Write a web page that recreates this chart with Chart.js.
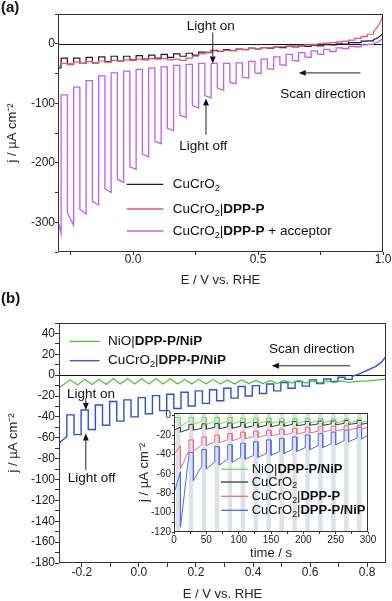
<!DOCTYPE html>
<html><head><meta charset="utf-8">
<script src="https://cdn.jsdelivr.net/npm/chart.js@4.4.1/dist/chart.umd.min.js"></script>
<style>
body{margin:0;background:#fff}
#wrap{position:relative;width:392px;height:601px;overflow:hidden;font-family:"Liberation Sans",Arial,sans-serif}
canvas{position:absolute}
.tag{position:absolute;font-weight:bold;font-size:15px;color:#111}
</style></head><body>
<div id="wrap">
<canvas id="ca" width="392" height="290" style="left:0;top:0"></canvas>
<canvas id="cb" width="392" height="311" style="left:0;top:290px"></canvas>
<canvas id="ci" width="255" height="165" style="left:130px;top:400px"></canvas>
<div class="tag" style="left:1px;top:-2px">(a)</div>
<div class="tag" style="left:1px;top:289px">(b)</div>
</div>
<script>
const FAMILY = '"Liberation Sans", Arial, Helvetica, sans-serif';

// ---------- panel (a): chopped LSV ----------
const aLightCentres = [-0.25,-0.2,-0.15,-0.1,-0.05,0,0.05,0.1,0.15,0.2,0.25,0.3,0.35,0.4,0.45,0.5,0.55,0.6,0.65,0.7,0.75,0.8,0.85,0.9,0.95];
const aHalf = 0.0125;
const aTicksX = [-0.25,0,0.25,0.5,0.75,1];
const aLabelsX = [0,0.5,1];
const aTicksY = [-350,-300,-250,-200,-150,-100,-50,0,50];
const aLabelsY = [-300,-200,-100,0];

const magStart = [[-0.3,-297],[-0.2875,-319]];
const magDark = [-86,-73,-62,-54,-49,-46,-43,-41,-39,-36.5,-34.5,-33,-33,-33,-32,-29.5,-26,-22,-18,-15,-12,-9.5,-7,-4.5,-2];
const magLightL = [-284,-278,-265,-244,-228,-207,-186,-164,-142,-120,-104,-87,-75,-65,-56,-49,-42,-35,-28,-22,-17,-13,-8,-5,-1];
const magLightR = [-305,-286,-271,-250,-233,-211,-190,-168,-146,-124,-108,-91,-78,-67,-58,-50,-43,-36,-29,-23,-18,-13,-8,-5,-1];
const magTail = [[0.9625,0],[0.98,3],[1.0,9]];

const blkStart = [[-0.3,-42],[-0.2875,-40]];
const blkDark = [-24,-24,-23,-22,-21,-21,-20,-19,-18,-17,-16,-14,-11,-10,-9,-7.5,-6.5,-5.5,-4.5,-3.5,-2.5,-1.5,0,2,4.5];
const blkLight = [-34,-33,-32,-30,-29,-27,-26,-24,-23,-21,-19,-15,-13,-11.5,-10,-8.5,-7.5,-6.5,-5.5,-4.5,-3.5,-2,-0.5,2,5];
const blkTail = [[0.9625,7],[0.98,10],[1.0,17]];

const redStart = [[-0.3,-40],[-0.2875,-35]];
const redDark = [-33,-31,-30,-29,-28,-27,-26,-25,-25,-26,-24,-17,-12,-11,-9.5,-8,-6.5,-5,-4,-2.5,-1,1,3,6,12];
const redLight = [-35,-33,-32,-31,-29,-28,-27,-26,-27,-28,-21,-14,-12.5,-11,-9.5,-8,-6.5,-5,-3.5,-2,0,2,4.5,9,16];
const redTail = [[0.9625,20],[0.98,30],[0.99,37],[1.0,47]];

// ---------- panel (b) ----------
const bDarkCentres = [-0.24,-0.19,-0.14,-0.09,-0.04,0.01,0.06,0.11,0.16,0.21,0.26,0.31,0.36,0.41,0.46,0.51,0.56,0.61,0.66,0.71];
const bLightCentres = [-0.215,-0.165,-0.115,-0.065,-0.015,0.035,0.085,0.135,0.185,0.235,0.285,0.335,0.385,0.435,0.485,0.535,0.585,0.635,0.685,0.735];
const bHalf = 0.0125;
const bTicksX = [-0.2,-0.1,0,0.1,0.2,0.3,0.4,0.5,0.6,0.7,0.8];
const bLabelsX = [-0.2,0,0.2,0.4,0.6,0.8];
const bTicksY = [-180,-170,-160,-150,-140,-130,-120,-110,-100,-90,-80,-70,-60,-50,-40,-30,-20,-10,0,10,20,30,40,50];
const bLabelsY = [-180,-160,-140,-120,-100,-80,-60,-40,-20,0,20,40];

const blueStart = [[-0.28,-65],[-0.2525,-59]];
const blueDark = [-38,-33.4,-28.6,-25.3,-23.7,-21.5,-19.6,-18.3,-16.4,-15,-14,-12.5,-10.9,-10,-8.4,-7,-6,-4.5,-3.6,-2];
const blueLight = [-57,-52,-48,-44,-40,-37,-34,-32,-29.5,-27,-24.5,-22,-20,-17.5,-15,-12.5,-10.5,-8,-6,-4];
const blueTail = [[0.7475,-1],[0.77,1],[0.8,4.5],[0.83,8.5],[0.85,12.5],[0.866,18]];

const greenStart = [[-0.28,-12]];
const greenPeak = [-4.5,-4,-4,-3.5,-3.5,-3.5,-3.5,-3.5,-4,-4,-4,-4.5,-4.5,-5,-5,-5,-5,-5.5,-5.5,-5.5];
const greenTrough = [-9.5,-9,-9,-8.5,-8.5,-8.5,-8.5,-8.5,-8.5,-8.5,-8.5,-8.5,-8,-8,-8,-7.5,-7.5,-7.5,-7,-7];
const greenTail = [[0.76,-6],[0.8,-5.5],[0.84,-4.5],[0.866,-3.5]];

// ---------- inset: chopped chronoamperometry ----------
const iOnT = [10,30,50,70,90,110,130,150,170,190,210,230,250,270,290];
const iOffT = [23,43,63,83,103,123,143,163,183,203,223,243,263,283,300];
const iBarFrom = [3,23,43,63,83,103,123,143,163,183,203,223,243,263,283];
const iBarTo = [10,30,50,70,90,110,130,150,170,190,210,230,250,270,290];
const iTicksX = [0,25,50,75,100,125,150,175,200,225,250,275,300];
const iLabelsX = [0,50,100,150,200,250,300];
const iTicksY = [-120,-110,-100,-90,-80,-70,-60,-50,-40,-30,-20,-10,0];
const iLabelsY = [-120,-100,-80,-60,-40,-20,0];

const iBlueStart = [[0,-80],[10,-58]];
const iBlueSpike = [-115,-67,-55,-51,-48,-45,-43,-41,-39,-37,-35,-33,-30,-27,-24];
const iBlueEnd = [-41,-52,-48,-45,-43,-41,-39,-37,-35,-33,-31,-29,-26,-23,-20];
const iBlueDark = [-38,-35,-32,-30,-28.5,-27,-25,-23.5,-22,-20,-18.5,-17,-15,-12];

const iRedStart = [[0,-40],[10,-31]];
const iRedSpike = [-55,-37,-31,-28,-26,-24,-22.5,-21,-20,-19,-18,-17,-16,-15,-14];
const iRedEnd = [-36,-30,-27,-25,-23,-21.5,-20,-19,-18,-17,-16,-15,-14,-13,-12];
const iRedDark = [-25,-22,-20,-18.5,-17,-16,-15,-14,-13,-12,-11.5,-11,-10.5,-10];

const iBlkStart = [[0,-15],[10,-12]];
const iBlkSpike = [-17,-15,-14,-13.5,-13,-12.5,-12,-11.5,-11,-10.5,-10,-10,-9.5,-9,-9];
const iBlkEnd = [-14,-13,-12,-11.5,-11,-10.5,-10,-9.5,-9,-9,-8.5,-8.5,-8,-8,-7.5];
const iBlkDark = [-9,-8.5,-8,-7.5,-7,-7,-6.5,-6.5,-6,-6,-5.5,-5.5,-5,-5];

const iGrnStart = [[0,-2],[10,-2]];
const iGrnSpike = [-11,-9,-9,-8.5,-8.5,-8.5,-8,-8,-8,-8,-7.5,-7.5,-7.5,-7.5,-7];
const iGrnEnd = [-6,-6,-6,-6,-6,-6,-6,-6,-6,-5.5,-5.5,-5.5,-5.5,-5.5,-5.5];
const iGrnDark = [-2,-2,-2,-2,-2.5,-2.5,-2.5,-3,-3,-3,-3,-3.5,-3.5,-3.5];

// ---------- builders ----------
const xy = arr => arr.map(([x, y]) => ({x, y}));

function chopped(start, centres, half, dark, lightL, lightR, tail) {
  const pts = xy(start);
  let edge = start[start.length - 1][0];
  centres.forEach((c, i) => {
    pts.push({x: edge, y: dark[i]}, {x: c - half, y: dark[i]},
             {x: c - half, y: lightL[i]}, {x: c + half, y: lightR[i]});
    edge = c + half;
  });
  return pts.concat(xy(tail));
}

function wave(start, peakX, peak, troughX, trough, tail) {
  const pts = xy(start);
  peakX.forEach((x, i) => pts.push({x, y: peak[i]}, {x: troughX[i], y: trough[i]}));
  return pts.concat(xy(tail));
}

function pulses(start, onT, offT, spike, end, dark) {
  const pts = xy(start);
  let level = start[start.length - 1][1];
  onT.forEach((t, i) => {
    pts.push({x: t, y: level}, {x: t, y: spike[i]}, {x: offT[i], y: end[i]});
    if (i < dark.length) { pts.push({x: offT[i], y: dark[i]}); level = dark[i]; }
  });
  return pts;
}

function line(data, color, w) {
  return {data, borderColor: color, borderWidth: w || 1.2, pointRadius: 0, tension: 0, fill: false};
}

// ---------- labels ----------
const CU = [{t: 'CuCrO'}, {t: '2', sub: 1}];
const labA2 = [...CU, {t: '|'}, {t: 'DPP-P', b: 1}];
const labA3 = [...labA2, {t: ' + acceptor'}];
const labNiO = [{t: 'NiO|'}, {t: 'DPP-P/NiP', b: 1}];
const labCuNiP = [...CU, {t: '|'}, {t: 'DPP-P/NiP', b: 1}];

function rich(ctx, segs, x, y, size) {
  segs.forEach(s => {
    const sz = s.sub ? size * 0.68 : size;
    ctx.font = (s.b ? 'bold ' : '') + sz + 'px ' + FAMILY;
    ctx.fillText(s.t, x, y + (s.sub ? size * 0.3 : 0));
    x += ctx.measureText(s.t).width;
  });
}

function arrow(ctx, x1, y1, x2, y2, head) {
  const a = Math.atan2(y2 - y1, x2 - x1);
  const bx = x2 - head * Math.cos(a), by = y2 - head * Math.sin(a);
  ctx.beginPath(); ctx.moveTo(x1, y1); ctx.lineTo(bx, by); ctx.stroke();
  const w = head * 0.42;
  ctx.beginPath(); ctx.moveTo(x2, y2);
  ctx.lineTo(bx + w * Math.sin(a), by - w * Math.cos(a));
  ctx.lineTo(bx - w * Math.sin(a), by + w * Math.cos(a));
  ctx.closePath(); ctx.fill();
}

const deco = {
  id: 'deco',
  beforeDraw(chart, args, o) {
    const ctx = chart.ctx, a = chart.chartArea;
    if (o.fill) { ctx.save(); ctx.fillStyle = o.fill; ctx.fillRect(a.left, a.top, a.width, a.height); ctx.restore(); }
  },
  beforeDatasetsDraw(chart, args, o) {
    const ctx = chart.ctx, a = chart.chartArea, sx = chart.scales.x, sy = chart.scales.y;
    ctx.save();
    if (o.bars) {
      ctx.fillStyle = o.bars.color;
      o.bars.from.forEach((f, i) => {
        const x0 = sx.getPixelForValue(f), x1 = sx.getPixelForValue(o.bars.to[i]);
        ctx.fillRect(x0, a.top, x1 - x0, a.height);
      });
    }
    if (o.zero) {
      const y = Math.round(sy.getPixelForValue(0)) + 0.5;
      ctx.strokeStyle = '#111'; ctx.lineWidth = 1;
      ctx.beginPath(); ctx.moveTo(a.left, y); ctx.lineTo(a.right, y); ctx.stroke();
    }
    ctx.restore();
  },
  afterDraw(chart, args, o) {
    const ctx = chart.ctx, a = chart.chartArea, sx = chart.scales.x, sy = chart.scales.y;
    ctx.save();
    ctx.strokeStyle = '#333'; ctx.lineWidth = 1;
    ctx.strokeRect(Math.round(a.left) + 0.5, Math.round(a.top) + 0.5, Math.round(a.width) - 1, Math.round(a.height) - 1);
    ctx.fillStyle = '#111'; ctx.strokeStyle = '#222';
    ctx.textAlign = 'center'; ctx.textBaseline = 'middle';
    (o.texts || []).forEach(t => {
      ctx.font = o.textSize + 'px ' + FAMILY;
      ctx.fillText(t.t, sx.getPixelForValue(t.x), sy.getPixelForValue(t.y));
    });
    (o.arrows || []).forEach(r => {
      ctx.lineWidth = 1;
      arrow(ctx, sx.getPixelForValue(r.x1), sy.getPixelForValue(r.y1),
                 sx.getPixelForValue(r.x2), sy.getPixelForValue(r.y2), 7);
    });
    if (o.legend) {
      const L = o.legend;
      ctx.textAlign = 'left';
      L.rows.forEach(r => {
        const y = a.top + r.y;
        ctx.strokeStyle = r.color; ctx.lineWidth = 1.3;
        ctx.beginPath(); ctx.moveTo(a.left + L.x0, y); ctx.lineTo(a.left + L.x1, y); ctx.stroke();
        ctx.fillStyle = '#111';
        rich(ctx, r.segs, a.left + L.tx, y, L.size);
      });
    }
    ctx.restore();
  }
};

function axis(o) {
  return {
    type: 'linear', min: o.min, max: o.max,
    afterBuildTicks: s => { s.ticks = o.ticks.map(v => ({value: v})); },
    afterFit: s => { if (o.width) s.width = o.width; if (o.height) s.height = o.height; },
    ticks: {
      autoSkip: false, maxRotation: 0, color: '#222', padding: o.pad,
      font: {family: FAMILY, size: o.font, lineHeight: 1},
      callback: v => o.labels.includes(v) ? o.fmt(v) : ''
    },
    grid: {drawOnChartArea: false, drawTicks: true, tickLength: o.tick, color: '#333'},
    border: {display: false},
    title: {display: true, text: o.title, color: '#222',
            font: {family: FAMILY, size: 13, lineHeight: 1}, padding: o.titlePad}
  };
}

function base(datasets, scales, padding, decoOpts) {
  return {
    type: 'line',
    data: {datasets},
    options: {
      responsive: false, animation: false, devicePixelRatio: 1,
      parsing: false, normalized: true,
      layout: {padding},
      plugins: {legend: {display: false}, tooltip: {enabled: false}, deco: decoOpts},
      scales
    },
    plugins: [deco]
  };
}

const J = 'j / µA cm⁻²';
const E = 'E / V vs. RHE';

// panel (a)
new Chart(document.getElementById('ca'), base([
  line(chopped(magStart, aLightCentres, aHalf, magDark, magLightL, magLightR, magTail), '#c55cf2', 1.3),
  line(chopped(redStart, aLightCentres, aHalf, redDark, redLight, redLight, redTail), '#f0506a'),
  line(chopped(blkStart, aLightCentres, aHalf, blkDark, blkLight, blkLight, blkTail), '#1c1c3a')
], {
  x: axis({min: -0.3, max: 1.0, ticks: aTicksX, labels: aLabelsX, fmt: v => v.toFixed(1),
           font: 12, tick: 3, pad: -1, height: 38, title: E, titlePad: {top: 0, bottom: 3.5}}),
  y: axis({min: -350, max: 50, ticks: aTicksY, labels: aLabelsY, fmt: v => String(v),
           font: 12, tick: 3, pad: 0, width: 58, title: J, titlePad: {top: 5.5, bottom: 0}})
}, {top: 14, right: 9, left: 0, bottom: 0}, {
  zero: true, textSize: 13.5,
  texts: [{t: 'Light on', x: 0.311, y: 29}, {t: 'Light off', x: 0.281, y: -172},
          {t: 'Scan direction', x: 0.76, y: -84.5}],
  arrows: [{x1: 0.319, y1: 19, x2: 0.319, y2: -33}, {x1: 0.292, y1: -153, x2: 0.292, y2: -92},
           {x1: 0.91, y1: -49, x2: 0.663, y2: -49}],
  legend: {x0: 68.7, x1: 105.3, tx: 114.7, size: 13.5, rows: [
    {y: 170.3, color: '#1c1c3a', segs: CU},
    {y: 195, color: '#f0506a', segs: labA2},
    {y: 217, color: '#c55cf2', segs: labA3}]}
}));

// panel (b)
new Chart(document.getElementById('cb'), base([
  line(wave(greenStart, bDarkCentres, greenPeak, bLightCentres, greenTrough, greenTail), '#40c828', 1.2),
  line(chopped(blueStart, bLightCentres, bHalf, blueDark, blueLight, blueLight, blueTail), '#2b50dc', 1.4)
], {
  x: axis({min: -0.28, max: 0.866, ticks: bTicksX, labels: bLabelsX, fmt: v => v.toFixed(1),
           font: 12, tick: 4, pad: 0, height: 38, title: E, titlePad: {top: 0, bottom: 0}}),
  y: axis({min: -180, max: 50, ticks: bTicksY, labels: bLabelsY, fmt: v => String(v),
           font: 12, tick: 4, pad: 0, width: 59, title: J, titlePad: {top: 6.5, bottom: 0}})
}, {top: 33, right: 6, left: 0, bottom: 0}, {
  zero: true, textSize: 13.5,
  texts: [{t: 'Scan direction', x: 0.606, y: 25}, {t: 'Light on', x: -0.168, y: -18},
          {t: 'Light off', x: -0.166, y: -99}],
  arrows: [{x1: 0.74, y1: 9, x2: 0.466, y2: 9}, {x1: -0.186, y1: -22, x2: -0.186, y2: -33.4},
           {x1: -0.186, y1: -91, x2: -0.186, y2: -55.8}],
  legend: {x0: 10.7, x1: 40.7, tx: 49, size: 13.5, rows: [
    {y: 18.4, color: '#40c828', segs: labNiO},
    {y: 37.7, color: '#2b50dc', segs: labCuNiP}]}
}));

// inset
new Chart(document.getElementById('ci'), base([
  line(pulses(iGrnStart, iOnT, iOffT, iGrnSpike, iGrnEnd, iGrnDark), '#6ee050', 1),
  line(pulses(iBlkStart, iOnT, iOffT, iBlkSpike, iBlkEnd, iBlkDark), '#3a3a3a', 1),
  line(pulses(iRedStart, iOnT, iOffT, iRedSpike, iRedEnd, iRedDark), '#f46a84', 1),
  line(pulses(iBlueStart, iOnT, iOffT, iBlueSpike, iBlueEnd, iBlueDark), '#5568f0', 1)
], {
  x: axis({min: 0, max: 300, ticks: iTicksX, labels: iLabelsX, fmt: v => String(v),
           font: 10, tick: 2, pad: 1, height: 33, title: 'time / s', titlePad: {top: 0, bottom: 5}}),
  y: axis({min: -120, max: 2.7, ticks: iTicksY, labels: iLabelsY, fmt: v => String(v),
           font: 10, tick: 2, pad: 1, width: 44, title: J, titlePad: {top: 7.5, bottom: 0}})
}, {top: 13, right: 17, left: 0, bottom: 0}, {
  fill: '#ffffff',
  bars: {from: iBarFrom, to: iBarTo, color: '#dde2e6'},
  legend: {x0: 47, x1: 74, tx: 77.7, size: 13, rows: [
    {y: 56.3, color: '#6ee050', segs: labNiO},
    {y: 69, color: '#3a3a3a', segs: CU},
    {y: 83.3, color: '#f46a84', segs: labA2},
    {y: 97.3, color: '#5568f0', segs: labCuNiP}]}
}));
</script>
</body></html>
